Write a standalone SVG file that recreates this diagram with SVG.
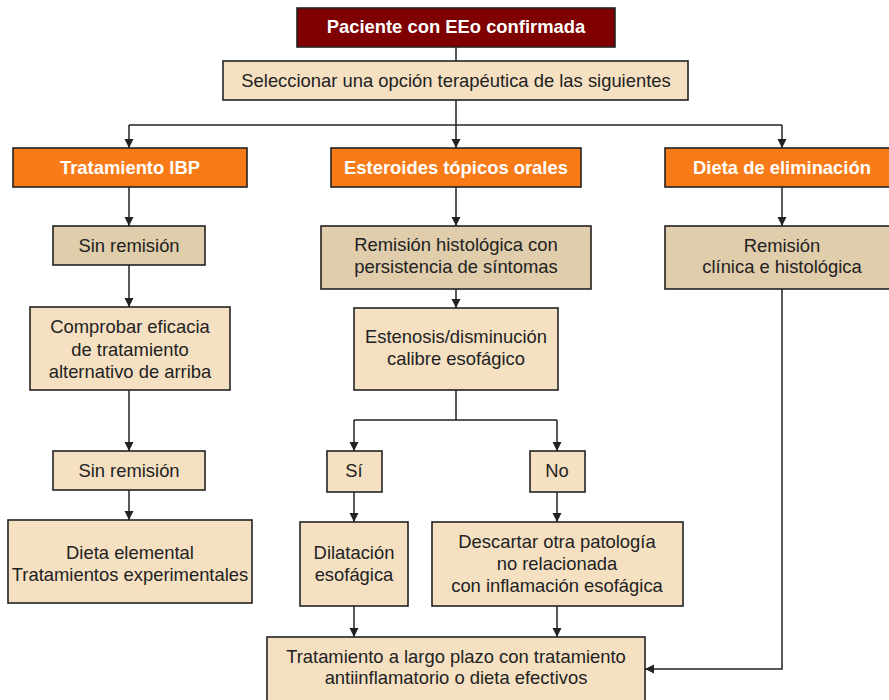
<svg xmlns="http://www.w3.org/2000/svg" width="889" height="700" viewBox="0 0 889 700">
<defs>
<marker id="arr" markerUnits="userSpaceOnUse" markerWidth="10" markerHeight="10" refX="9" refY="5" orient="auto">
<path d="M0,0.5 L9,5 L0,9.5 Z" fill="#222"/>
</marker>
<style>
.box{stroke:#222;stroke-width:1.6}
.dark{fill:#7f0000}
.org{fill:#f97b17}
.lt{fill:#f5e1c2}
.tan{fill:#dfcdab}
text{font-family:"Liberation Sans",Arial,sans-serif;font-size:18.4px;text-anchor:middle;fill:#222}
.w{fill:#fff;font-weight:bold}
#conn line,#conn polyline{stroke:#222;stroke-width:1.5;fill:none}
</style>
</defs>
<rect width="889" height="700" fill="#fff"/>
<g id="conn">
<line x1="456" y1="47" x2="456" y2="61"/>
<line x1="456" y1="100" x2="456" y2="148" marker-end="url(#arr)"/>
<line x1="129" y1="125" x2="782" y2="125"/>
<line x1="129" y1="125" x2="129" y2="148" marker-end="url(#arr)"/>
<line x1="782" y1="125" x2="782" y2="148" marker-end="url(#arr)"/>
<line x1="129" y1="187" x2="129" y2="226" marker-end="url(#arr)"/>
<line x1="129" y1="265" x2="129" y2="307" marker-end="url(#arr)"/>
<line x1="129" y1="390" x2="129" y2="451" marker-end="url(#arr)"/>
<line x1="129" y1="490" x2="129" y2="520" marker-end="url(#arr)"/>
<line x1="456" y1="187" x2="456" y2="226" marker-end="url(#arr)"/>
<line x1="456" y1="289" x2="456" y2="308" marker-end="url(#arr)"/>
<line x1="456" y1="390" x2="456" y2="420"/>
<line x1="354" y1="420" x2="557" y2="420"/>
<line x1="354" y1="420" x2="354" y2="451" marker-end="url(#arr)"/>
<line x1="557" y1="420" x2="557" y2="451" marker-end="url(#arr)"/>
<line x1="354" y1="492" x2="354" y2="522" marker-end="url(#arr)"/>
<line x1="557" y1="492" x2="557" y2="522" marker-end="url(#arr)"/>
<line x1="354" y1="606" x2="354" y2="637" marker-end="url(#arr)"/>
<line x1="557" y1="606" x2="557" y2="637" marker-end="url(#arr)"/>
<line x1="782" y1="187" x2="782" y2="226" marker-end="url(#arr)"/>
<polyline points="782,289 782,669 645,669" marker-end="url(#arr)"/>
</g>
<g id="n-paciente"><rect class="box dark" x="297" y="8" width="318" height="39"/><text class="w" x="456" y="33">Paciente con EEo confirmada</text></g>
<g id="n-seleccionar"><rect class="box lt" x="223" y="61" width="465" height="39"/><text x="456" y="87">Seleccionar una opción terapéutica de las siguientes</text></g>
<g id="n-ibp"><rect class="box org" x="13" y="148" width="234" height="39"/><text class="w" x="130" y="174">Tratamiento IBP</text></g>
<g id="n-esteroides"><rect class="box org" x="331" y="148" width="250" height="39"/><text class="w" x="456" y="174">Esteroides tópicos orales</text></g>
<g id="n-dieta"><rect class="box org" x="665" y="148" width="230" height="39"/><text class="w" x="782" y="174">Dieta de eliminación</text></g>
<g id="n-sin1"><rect class="box tan" x="53" y="226" width="152" height="39"/><text x="129" y="252">Sin remisión</text></g>
<g id="n-comprobar"><rect class="box lt" x="30" y="307" width="200" height="83"/><text x="130" y="333">Comprobar eficacia</text><text x="130" y="356">de tratamiento</text><text x="130" y="378">alternativo de arriba</text></g>
<g id="n-sin2"><rect class="box lt" x="53" y="451" width="152" height="39"/><text x="129" y="477">Sin remisión</text></g>
<g id="n-elemental"><rect class="box lt" x="8" y="520" width="244" height="83"/><text x="130" y="559">Dieta elemental</text><text x="130" y="581">Tratamientos experimentales</text></g>
<g id="n-remhist"><rect class="box tan" x="321" y="226" width="270" height="63"/><text x="456" y="251">Remisión histológica con</text><text x="456" y="273">persistencia de síntomas</text></g>
<g id="n-estenosis"><rect class="box lt" x="354" y="308" width="204" height="82"/><text x="456" y="343">Estenosis/disminución</text><text x="456" y="365">calibre esofágico</text></g>
<g id="n-si"><rect class="box lt" x="327" y="451" width="55" height="41"/><text x="354" y="477">Sí</text></g>
<g id="n-no"><rect class="box lt" x="530" y="451" width="55" height="41"/><text x="557" y="477">No</text></g>
<g id="n-dilatacion"><rect class="box lt" x="300" y="522" width="108" height="84"/><text x="354" y="559">Dilatación</text><text x="354" y="581">esofágica</text></g>
<g id="n-descartar"><rect class="box lt" x="432" y="522" width="251" height="84"/><text x="557" y="548">Descartar otra patología</text><text x="557" y="570">no relacionada</text><text x="557" y="592">con inflamación esofágica</text></g>
<g id="n-remclin"><rect class="box tan" x="665" y="226" width="230" height="63"/><text x="782" y="252">Remisión</text><text x="782" y="273">clínica e histológica</text></g>
<g id="n-largo"><rect class="box lt" x="267" y="637" width="378" height="70"/><text x="456" y="663">Tratamiento a largo plazo con tratamiento</text><text x="456" y="684">antiinflamatorio o dieta efectivos</text></g>
</svg>
